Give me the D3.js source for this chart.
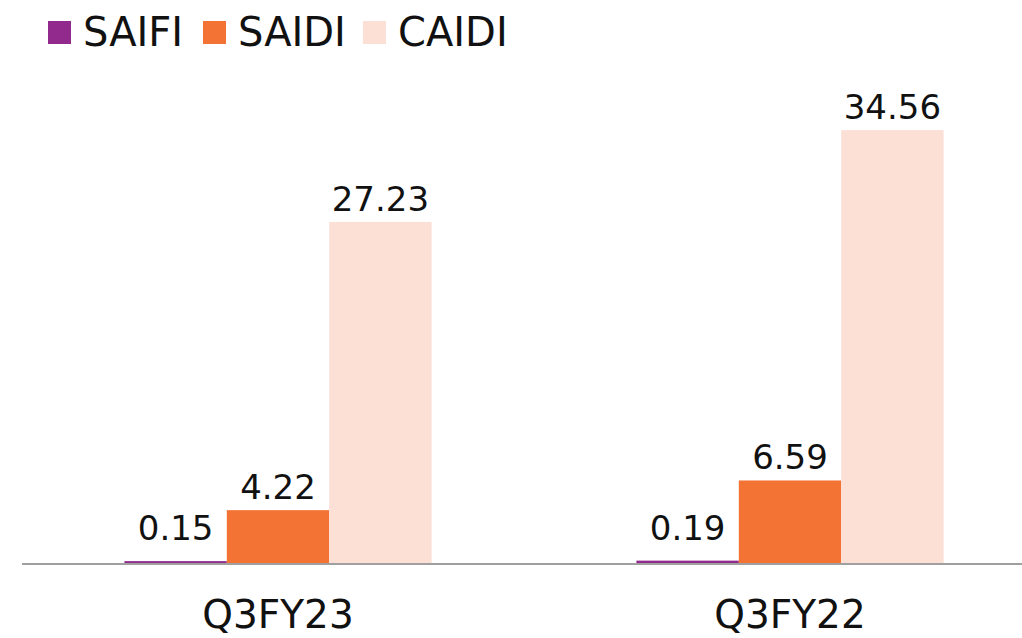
<!DOCTYPE html>
<html>
<head>
<meta charset="utf-8">
<script src="https://cdn.jsdelivr.net/npm/d3@7"></script>
<style>
  body { margin: 0; background: #fff; }
  text { font-family: "DejaVu Sans", sans-serif; fill: #111; }
</style>
</head>
<body>
<div id="chart"></div>
<script>
// data
const categories = ["Q3FY23", "Q3FY22"];
const seriesNames = ["SAIFI", "SAIDI", "CAIDI"];
const saifi = [0.15, 0.19];
const saidi = [4.22, 6.59];
const caidi = [27.23, 34.56];
const colors = ["#912a8c", "#f37335", "#fcdfd5"];

const width = 1022, height = 638;
const svg = d3.select("#chart").append("svg")
  .attr("width", width)
  .attr("height", height);

const rows = categories.map((c, i) => ({
  cat: c,
  vals: [saifi[i], saidi[i], caidi[i]]
}));

const x0 = d3.scaleBand()
  .domain(categories)
  .range([22, 1046])
  .paddingInner(0.4)
  .paddingOuter(0.2);

const x1 = d3.scaleBand()
  .domain(seriesNames)
  .range([0, x0.bandwidth()]);

const y = d3.scaleLinear()
  .domain([0, 40])
  .range([563, 62]);

const color = d3.scaleOrdinal().domain(seriesNames).range(colors);

// bars
const groups = svg.selectAll("g.grp")
  .data(rows)
  .enter()
  .append("g")
  .attr("class", "grp")
  .attr("transform", d => `translate(${x0(d.cat)},0)`);

groups.selectAll("rect")
  .data(d => d.vals.map((v, j) => ({ name: seriesNames[j], v: v })))
  .enter()
  .append("rect")
  .attr("x", d => x1(d.name))
  .attr("y", d => y(d.v))
  .attr("width", x1.bandwidth())
  .attr("height", d => y(0) - y(d.v))
  .attr("fill", d => color(d.name));

groups.selectAll("text.lbl")
  .data(d => d.vals.map((v, j) => ({ name: seriesNames[j], v: v })))
  .enter()
  .append("text")
  .attr("class", "lbl")
  .attr("text-anchor", "middle")
  .attr("x", d => x1(d.name) + x1.bandwidth() / 2)
  .attr("y", d => Math.min(y(d.v), y(0) - 12) - 11)
  .style("font-size", "34px")
  .text(d => d.v.toFixed(2));

// axis line
svg.append("line")
  .attr("x1", 22).attr("x2", width)
  .attr("y1", y(0) + 1).attr("y2", y(0) + 1)
  .attr("stroke", "#a0a0a0")
  .attr("stroke-width", 2);

// category labels
const xAxis = svg.append("g")
  .attr("transform", `translate(0,${y(0)})`)
  .call(d3.axisBottom(x0).tickSize(0).tickPadding(0));
xAxis.select(".domain").remove();
xAxis.selectAll("text")
  .attr("dy", null)
  .attr("y", 65)
  .style("font-size", "39px")
  .style("font-family", "DejaVu Sans, sans-serif")
  .attr("fill", "#111");

// legend
const legendX = [48, 203, 363];
const legend = svg.selectAll("g.leg")
  .data(seriesNames)
  .enter()
  .append("g")
  .attr("class", "leg")
  .attr("transform", (d, i) => `translate(${legendX[i]},21)`);
legend.append("rect")
  .attr("width", 23).attr("height", 23)
  .attr("fill", d => color(d));
legend.append("text")
  .attr("x", 35)
  .attr("y", 25)
  .style("font-size", "40px")
  .text(d => d);
</script>
</body>
</html>
